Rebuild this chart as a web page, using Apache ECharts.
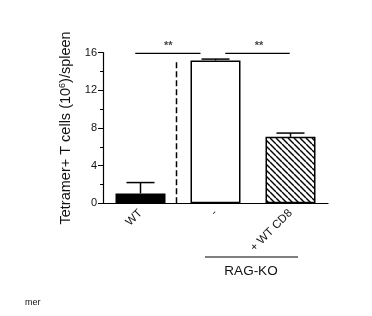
<!DOCTYPE html>
<html><head><meta charset="utf-8">
<script src="https://cdn.jsdelivr.net/npm/echarts@6/dist/echarts.min.js"></script>
<style>html,body{margin:0;padding:0;background:#fff}#c{width:372px;height:316px}</style>
</head><body><div id="c"></div>
<script>
var categories = ['WT', '-', '+ WT CD8'];
var means = [1.05, 15.15, 7.05];
var errors = [1.15, 0.15, 0.4];
var yTicks = [0, 4, 8, 12, 16];
var dashedLine = [[0.98, 0], [0.98, 15.0]];
var sigLeft = [[0.43, 15.9], [1.3, 15.9]];
var sigRight = [[1.63, 15.9], [2.49, 15.9]];
var sigStars = [[0.87, 16.7, '**'], [2.08, 16.7, '**']];

var pat = document.createElement('canvas');
pat.width = 6; pat.height = 6;
var g = pat.getContext('2d');
g.fillStyle = '#fff'; g.fillRect(0, 0, 6, 6);
g.strokeStyle = '#000'; g.lineWidth = 1.4;
for (var k = -1; k <= 1; k++) { g.beginPath(); g.moveTo(k * 6, 0); g.lineTo(k * 6 + 6, 6); g.stroke(); }

var fills = ['#000', '#fff', { image: pat, repeat: 'repeat' }];
var chart = echarts.init(document.getElementById('c'));
var font = 'Liberation Sans, Arial, sans-serif';
chart.setOption({
  animation: false,
  grid: { left: 103, right: 44, top: 52.5, bottom: 112.7 },
  xAxis: [{
    type: 'category', data: categories,
    axisLine: { lineStyle: { color: '#000', width: 1.2 } },
    axisTick: { alignWithLabel: true, length: 4, lineStyle: { color: '#000' } },
    axisLabel: { rotate: 45, fontSize: 11.5, color: '#111', fontFamily: font, margin: 8 }
  }, {
    type: 'value', min: 0, max: 3, show: false
  }],
  yAxis: {
    type: 'value', min: 0, max: 16, interval: 4,
    axisLine: { show: true, lineStyle: { color: '#000', width: 1.2 } },
    axisTick: { show: true, length: 5, lineStyle: { color: '#000' } },
    minorTick: { show: true, splitNumber: 2, length: 3, lineStyle: { color: '#000' } },
    splitLine: { show: false },
    axisLabel: { fontSize: 11, color: '#111', fontFamily: font, margin: 6 },
    name: '{a|Tetramer+ T cells (10}{s|6}{a|)/spleen}',
    nameLocation: 'middle', nameGap: 28, nameRotate: 90,
    nameTextStyle: { rich: { a: { fontSize: 14.5, color: '#111', fontFamily: font }, s: { fontSize: 9, color: '#111', fontFamily: font, verticalAlign: 'top', padding: [0, 0, 7, 0] } } }
  },
  series: [{
    type: 'bar', barWidth: 50,
    data: means.map(function (v, i) { return { value: v, itemStyle: { color: fills[i] } }; }),
    itemStyle: { borderColor: '#000', borderWidth: 1.5 }
  }, {
    type: 'custom',
    data: means.map(function (v, i) { return [i, v, v + errors[i]]; }),
    renderItem: function (params, api) {
      var a = api.coord([api.value(0), api.value(1)]);
      var b = api.coord([api.value(0), api.value(2)]);
      var w = 14;
      return { type: 'group', children: [
        { type: 'line', shape: { x1: a[0], y1: a[1], x2: b[0], y2: b[1] }, style: { stroke: '#000', lineWidth: 1.5 } },
        { type: 'line', shape: { x1: b[0] - w, y1: b[1], x2: b[0] + w, y2: b[1] }, style: { stroke: '#000', lineWidth: 1.5 } }
      ] };
    }, z: 5
  }, {
    type: 'line', xAxisIndex: 1, data: dashedLine, symbol: 'none', clip: false,
    lineStyle: { color: '#000', width: 1.5, type: [6, 3] }
  }, {
    type: 'line', xAxisIndex: 1, data: sigLeft, symbol: 'none', clip: false,
    lineStyle: { color: '#000', width: 1.2 }
  }, {
    type: 'line', xAxisIndex: 1, data: sigRight, symbol: 'none', clip: false,
    lineStyle: { color: '#000', width: 1.2 }
  }, {
    type: 'scatter', xAxisIndex: 1, data: sigStars, symbolSize: 0, clip: false,
    label: { show: true, position: 'inside', formatter: function (p) { return p.data[2]; }, fontSize: 11, fontWeight: 'bold', color: '#111', fontFamily: font }
  }],
  graphic: [
    { type: 'line', shape: { x1: 205, y1: 257, x2: 298, y2: 257 }, style: { stroke: '#000', lineWidth: 1.2 } },
    { type: 'text', x: 251, y: 271, style: { text: 'RAG-KO', fontSize: 13.5, fill: '#111', fontFamily: font, align: 'center', verticalAlign: 'middle' } },
    { type: 'text', x: 25, y: 303, style: { text: 'mer', fontSize: 9, fill: '#111', fontFamily: font, align: 'left', verticalAlign: 'middle' } }
  ]
});
</script></body></html>
